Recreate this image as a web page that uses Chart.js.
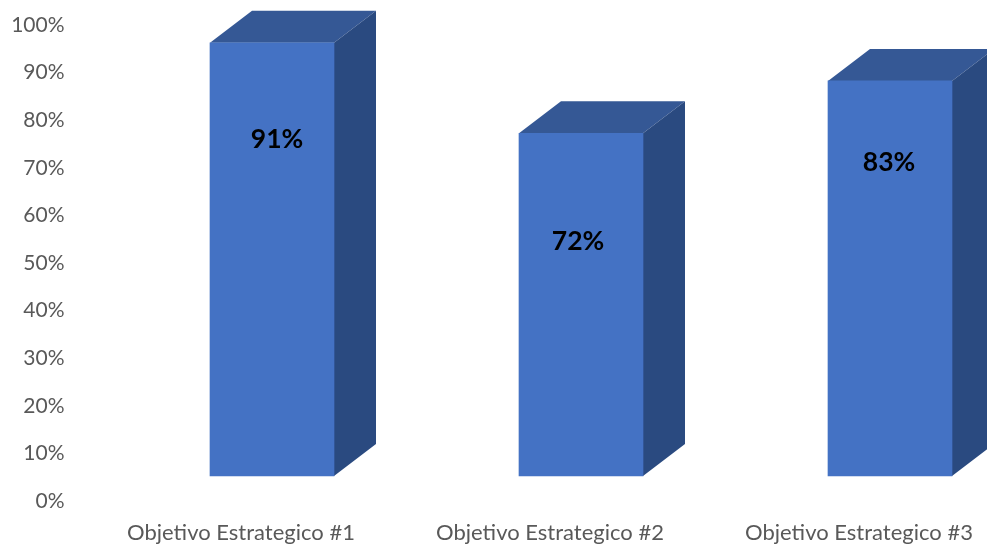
<!DOCTYPE html>
<html>
<head>
<meta charset="utf-8">
<title>Objetivos Estrategicos</title>
<script src="https://cdn.jsdelivr.net/npm/chart.js@4/dist/chart.umd.min.js"></script>
<style>
  html, body { margin: 0; padding: 0; background: #fff; overflow: hidden; }
  #wrap { width: 987px; height: 544px; overflow: hidden; }
</style>
</head>
<body>
<div id="wrap"><canvas id="grafico" width="1040" height="544"></canvas></div>
<script>
const categories = ['Objetivo Estrategico #1', 'Objetivo Estrategico #2', 'Objetivo Estrategico #3'];
const values = [91, 72, 83];
const labelTexts = ['91%', '72%', '83%'];
// height on the axis where each value label sits
const labelLevels = [70.8, 49.2, 65.8];
const labelNudge = [5, -3, -1];
const yTicks = [0, 10, 20, 30, 40, 50, 60, 70, 80, 90, 100];

// fake 3D: bars sit up and to the right of the axes, with a box depth behind them
const floorX = 31, floorY = -25;
const depthX = 42, depthY = -32;

const box3d = {
    id: 'box3d',
    beforeDatasetsDraw(chart) {
        const ctx = chart.ctx;
        const bars = chart.getDatasetMeta(0).data;
        const base = chart.scales.y.getPixelForValue(0);
        ctx.save();
        ctx.translate(floorX, floorY);
        bars.forEach(bar => {
            const left = bar.x - bar.width / 2;
            const right = bar.x + bar.width / 2;
            // top face
            ctx.fillStyle = '#355895';
            ctx.beginPath();
            ctx.moveTo(left, bar.y);
            ctx.lineTo(left + depthX, bar.y + depthY);
            ctx.lineTo(right + depthX, bar.y + depthY);
            ctx.lineTo(right, bar.y);
            ctx.closePath();
            ctx.fill();
            // side face
            ctx.fillStyle = '#2a4a80';
            ctx.beginPath();
            ctx.moveTo(right, bar.y);
            ctx.lineTo(right + depthX, bar.y + depthY);
            ctx.lineTo(right + depthX, base + depthY);
            ctx.lineTo(right, base);
            ctx.closePath();
            ctx.fill();
        });
        ctx.restore();
        // front faces are drawn by the library, moved with the same offset
        ctx.save();
        ctx.translate(floorX, floorY);
    },
    afterDatasetsDraw(chart) {
        const ctx = chart.ctx;
        ctx.restore();
        const y = chart.scales.y;
        ctx.save();
        ctx.fillStyle = '#000';
        ctx.font = 'bold 26.5px Lato';
        ctx.textAlign = 'center';
        ctx.textBaseline = 'middle';
        chart.getDatasetMeta(0).data.forEach((bar, i) => {
            ctx.fillText(labelTexts[i], bar.x + floorX + labelNudge[i], y.getPixelForValue(labelLevels[i]) + floorY);
        });
        ctx.restore();
    }
};

new Chart(document.getElementById('grafico').getContext('2d'), {
    type: 'bar',
    plugins: [box3d],
    data: {
        labels: categories,
        datasets: [{
            data: values,
            backgroundColor: '#4472c4',
            barThickness: 124,
            clip: false
        }]
    },
    options: {
        responsive: false,
        animation: false,
        layout: { padding: { top: 25, right: 26.5, left: 0, bottom: 0 } },
        plugins: { legend: { display: false }, tooltip: { enabled: false } },
        scales: {
            x: {
                grid: { display: false, drawTicks: false },
                border: { display: false },
                ticks: { color: '#595959', font: { family: 'Lato', size: 22 }, padding: 19, maxRotation: 0 },
                afterFit(scale) { scale.height = 43; }
            },
            y: {
                min: 0,
                max: 100,
                grid: { display: false, drawTicks: false },
                border: { display: false },
                afterBuildTicks(scale) { scale.ticks = yTicks.map(v => ({ value: v })); },
                ticks: { color: '#595959', font: { family: 'Lato', size: 21 }, padding: 22, callback: v => v + '%' },
                afterFit(scale) {
                    scale.width = 86.5;
                    // tick padding would otherwise push the plot area in at top and bottom
                    scale.paddingTop = 0;
                    scale.paddingBottom = 0;
                }
            }
        }
    }
});
</script>
</body>
</html>
